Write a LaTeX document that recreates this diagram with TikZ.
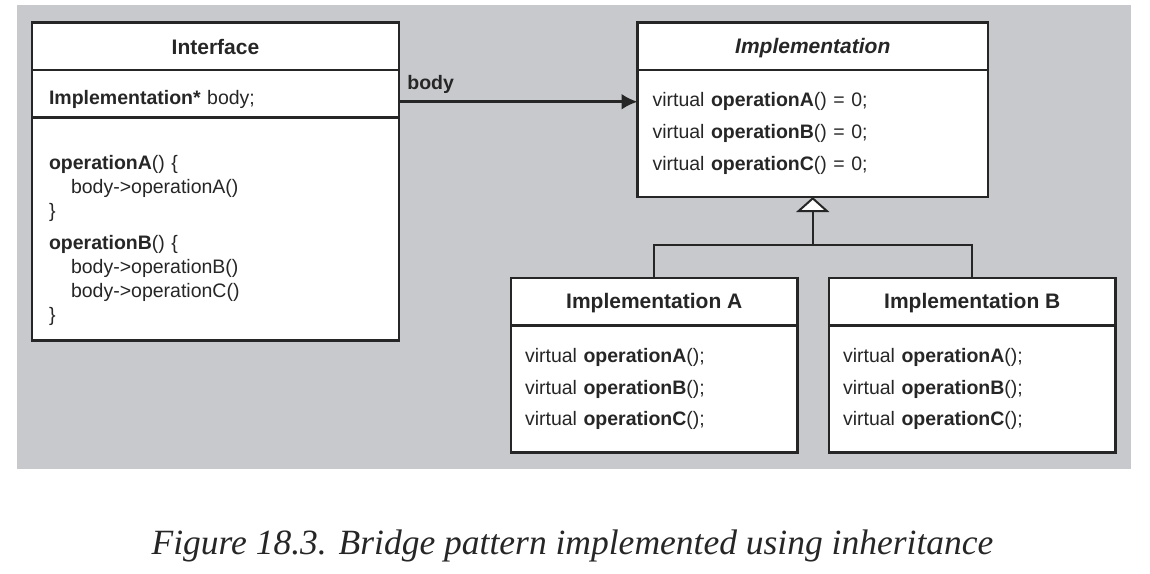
\documentclass[tikz,border=0pt]{standalone}
\usepackage{fontspec}
\setmainfont{Liberation Serif}
\setsansfont{Liberation Sans}
\usepackage{tikz}
\usetikzlibrary{positioning, arrows.meta}
\definecolor{panelgray}{RGB}{200,201,204}
\definecolor{inkgray}{RGB}{38,38,38}
\tikzset{>=latex}
\tikzset{
  classhead/.style={draw=inkgray, fill=white, line width=2.8pt, outer sep=0pt, inner sep=0pt,
    font=\sffamily\bfseries\fontsize{21}{25}\selectfont, text=inkgray, minimum height=47.5pt, align=center},
  classbody/.style={draw=inkgray, fill=white, line width=2.8pt, outer sep=0pt, inner xsep=15pt, inner ysep=0pt,
    font=\sffamily\fontsize{19.5}{32}\selectfont, text=inkgray, align=left},
  assoc/.style={draw=inkgray, line width=2.7pt, -{Latex[length=16pt,width=16pt]}},
  inherit/.style={draw=inkgray, line width=2pt},
}
\begin{document}
\begin{tikzpicture}[x=1pt, y=-1pt]
\useasboundingbox (0,0) rectangle (1150,573);
\fill[panelgray] (17,5) rectangle (1131,469);
% Interface class
\node[classhead, anchor=north west, minimum width=367pt] (ifhead) at (32,22.5) {\rule{0pt}{17pt}Interface};
\node[classbody, below=0pt of ifhead, inner xsep=17pt, text width=333pt, minimum height=47.5pt] (ifattr)
  {\rule{0pt}{26pt}\textbf{Implementation*} body;};
\node[classbody, below=0pt of ifattr, inner xsep=17pt, text width=333pt, minimum height=223pt,
  font=\sffamily\fontsize{19.5}{24}\selectfont] (ifops)
  {\rule{0pt}{37pt}\textbf{operationA}() \{\\
   \hspace*{22pt}body->operationA()\\
   \}\\[8pt]
   \textbf{operationB}() \{\\
   \hspace*{22pt}body->operationB()\\
   \hspace*{22pt}body->operationC()\\
   \}};
% abstract implementation
\node[classhead, anchor=north west, minimum width=350.5pt, font=\sffamily\bfseries\itshape\fontsize{21}{25}\selectfont]
  (implhead) at (637.5,22.5) {\rule{0pt}{19pt}Implementation};
\node[classbody, below=0pt of implhead, text width=320.5pt, minimum height=127pt] (implops)
  {virtual \textbf{operationA}() = 0;\\
   virtual \textbf{operationB}() = 0;\\
   virtual \textbf{operationC}() = 0;};
% concrete implementations
\node[classhead, anchor=north west, minimum width=286.5pt] (ahead) at (511,278) {\rule{0pt}{17pt}Implementation A};
\node[classbody, below=0pt of ahead, inner xsep=14pt, text width=258.5pt, minimum height=127pt,
  font=\sffamily\fontsize{19.5}{31.5}\selectfont] (aops)
  {virtual \textbf{operationA}();\\
   virtual \textbf{operationB}();\\
   virtual \textbf{operationC}();};
\node[classhead, right=31.5pt of ahead, minimum width=286.5pt] (bhead) {\rule{0pt}{17pt}Implementation B};
\node[classbody, below=0pt of bhead, inner xsep=14pt, text width=258.5pt, minimum height=127pt,
  font=\sffamily\fontsize{19.5}{31.5}\selectfont] (bops)
  {virtual \textbf{operationA}();\\
   virtual \textbf{operationB}();\\
   virtual \textbf{operationC}();};
% connectors
\draw[assoc] ([yshift=-8pt]ifattr.east) -- ([yshift=-8pt]ifattr.east -| implops.west)
  node[pos=0, anchor=base west, inner sep=0pt, xshift=7pt, yshift=12pt,
       font=\sffamily\bfseries\fontsize{19.5}{24}\selectfont, text=inkgray] {body};
\coordinate (fork) at ([yshift=-48pt]implops.south);
\draw[inherit] (ahead.north) |- (fork) -| (bhead.north);
\draw[inherit, -{Triangle[open, fill=white, length=15pt, width=33pt]}] (fork) -- (implops.south);
% caption
\node[anchor=base, inner sep=0pt, font=\rmfamily\itshape\fontsize{35.5}{40}\selectfont, text=inkgray]
  (caption) at (572.5,554) {Figure 18.3. Bridge pattern implemented using inheritance};
\end{tikzpicture}
\end{document}
